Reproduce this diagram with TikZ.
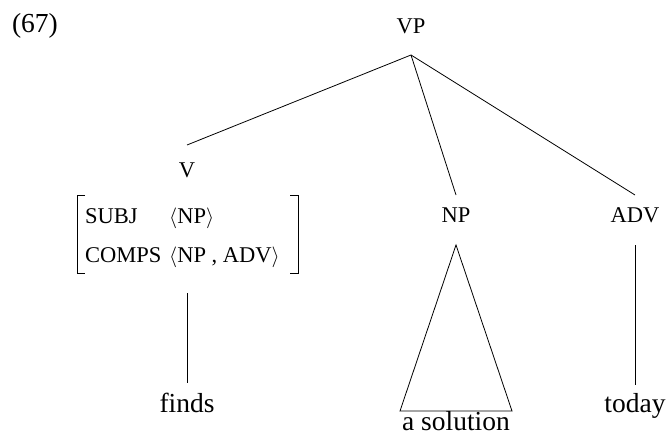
\documentclass[tikz,border=0pt]{standalone}
\usepackage{fontspec}
\setmainfont{Liberation Serif}
\usetikzlibrary{calc}
\begin{document}
\begin{tikzpicture}[x=1pt,y=-1pt,
  word/.style={inner sep=0pt,font=\fontsize{27.5}{30}\selectfont},
  cat/.style={inner sep=0pt,font=\fontsize{22.5}{26}\selectfont},
  feat/.style={inner sep=0pt,anchor=base west,font=\fontsize{22.5}{26}\selectfont},
  branch/.style={line width=0.8pt}]
\useasboundingbox (0,0) rectangle (667,436);
% example number
\node[word] (num) at (35,26) {(67)};
% category labels
\node[cat] (vp) at (411,26) {VP};
\node[cat] (v) at (187,170) {V};
\node[cat] (np) at (456,215) {NP};
\node[cat] (adv) at (635,215) {ADV};
% attribute-value matrix under V
\node[feat] (subj) at (85,223) {SUBJ};
\node[feat] (comps) at (85,262) {COMPS};
\node[feat] (subjv) at (169,223) {$\langle$NP$\rangle$};
\node[feat] (compsv) at (169,262) {$\langle$NP , ADV$\rangle$};
\coordinate (lbt) at (77,195);
\coordinate (lbb) at (77,273);
\coordinate (rbt) at (298,195);
\coordinate (rbb) at (298,273);
\draw[branch] ($(lbt)+(8,0)$) -- (lbt) -- (lbb) -- ($(lbb)+(8,0)$);
\draw[branch] ($(rbt)+(-8,0)$) -- (rbt) -- (rbb) -- ($(rbb)+(-8,0)$);
% leaves
\node[word,anchor=base] (finds) at (187,412) {finds};
\node[word,anchor=base] (sol) at (456,430) {a solution};
\node[word,anchor=base] (today) at (635,412) {today};
% branch end points
\coordinate (apex) at (411,55);
\coordinate (vtop) at (187,145);
\coordinate (nptop) at (456,195);
\coordinate (advtop) at (635,195);
\coordinate (vbot) at (187,293);
\coordinate (findstop) at (187,383);
\coordinate (tri) at (456,245);
\coordinate (tril) at (400,411);
\coordinate (trir) at (512,411);
\coordinate (advbot) at (635,245);
\coordinate (todaytop) at (635,385);
% branches
\draw[branch] (apex) -- (vtop);
\draw[branch] (apex) -- (nptop);
\draw[branch] (apex) -- (advtop);
\draw[branch] (vbot) -- (findstop);
\draw[branch] (tri) -- (tril) -- (trir) -- cycle;
\draw[branch] (advbot) -- (todaytop);
\end{tikzpicture}
\end{document}
